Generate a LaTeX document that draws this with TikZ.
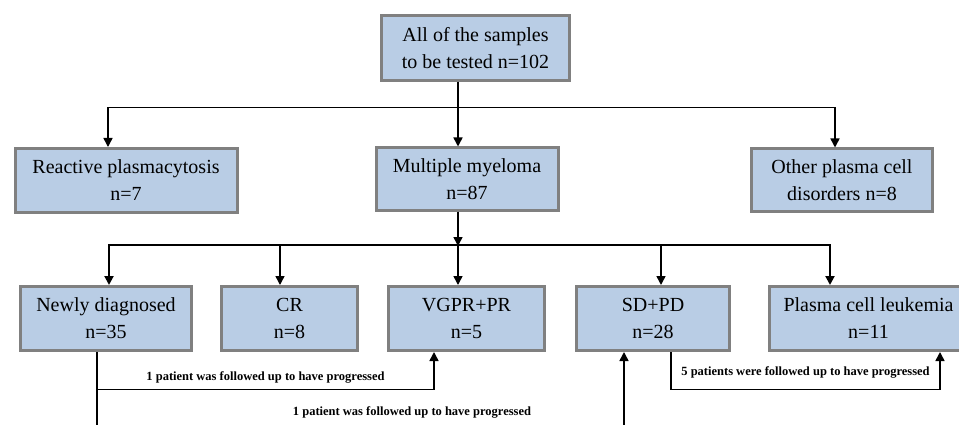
\documentclass[tikz,border=0pt]{standalone}
\usepackage{fontspec}
\setmainfont{Liberation Serif}
\usetikzlibrary{arrows.meta}
\definecolor{boxfill}{HTML}{B9CDE5}
\definecolor{boxline}{HTML}{808080}
\begin{document}
\begin{tikzpicture}[line join=miter,>={Triangle[width=9pt,length=9pt]},x=1pt,y=-1pt,
	box/.style={draw=boxline,line width=3pt,fill=boxfill,align=center,inner sep=0pt,minimum height=64pt,font=\fontsize{20}{27}\selectfont},
	conn/.style={line width=1.5pt},
	note/.style={font=\fontsize{12.5}{14}\selectfont\bfseries,inner sep=0pt}]
		\clip(0,0) rectangle (959,425);
		\node[box,minimum width=188pt,minimum height=65pt] (all) at (475.5,48) {All of the samples\\to be tested n=102};
		\node[box,minimum width=222pt] (reactive) at (126,180.5) {Reactive plasmacytosis\\n=7};
		\node[box,minimum width=182pt,minimum height=62pt] (mm) at (467,179) {Multiple myeloma\\n=87};
		\node[box,minimum width=181pt,minimum height=62pt] (other) at (842,180) {Other plasma cell\\disorders n=8};
		\node[box,minimum width=171pt] (newly) at (106,318.5) {Newly diagnosed\\n=35};
		\node[box,minimum width=136pt] (cr) at (289.5,318.5) {CR\\n=8};
		\node[box,minimum width=156pt] (vgpr) at (466.5,318.5) {VGPR+PR\\n=5};
		\node[box,minimum width=153pt] (sd) at (653,318.5) {SD+PD\\n=28};
		\node[box,minimum width=198pt] (pcl) at (868.5,318.5) {Plasma cell leukemia\\n=11};
		\coordinate (fork) at (458,246);
		\coordinate (cut1) at (97,430);
		\coordinate (cut2) at (624,430);
		\draw[conn,->] ([xshift=-17.5pt]all.south) -- ([xshift=-9pt]mm.north);
		\draw[conn,<->] ([xshift=-18pt]reactive.north) -- ++(0,-39.5) -| ([xshift=-7pt]other.north);
		\draw[conn,->] ([xshift=-9pt]mm.south) -- (fork);
		\draw[line width=2pt,<->,>={Triangle[width=9pt,length=9pt]}] ([xshift=3pt]newly.north) -- ++(0,-40.5) -| ([xshift=-38.5pt]pcl.north);
		\draw[conn,->] (fork) -- ([xshift=-8.5pt]vgpr.north);
		\draw[conn,<-] ([xshift=-9.5pt]cr.north) -- +(0,-40.5);
		\draw[conn,<-] ([xshift=8pt]sd.north) -- +(0,-40.5);
		\draw[conn] ([xshift=-9pt]newly.south) -- (cut1);
		\draw[conn,->] ([xshift=-9pt]newly.south) -- ++(0,37.5) -| ([xshift=-32.5pt]vgpr.south) node[note,pos=0.25,above=5.8pt] (lab1) {1 patient was followed up to have progressed};
		\node[note] (lab2) at (412,412) {1 patient was followed up to have progressed};
		\draw[conn,->] (cut2) -- ([xshift=-29pt]sd.south);
		\draw[conn,->] ([xshift=18pt]sd.south) -- ++(0,37.5) -| ([xshift=71.5pt]pcl.south) node[note,pos=0.25,above=10.8pt] (lab3) {5 patients were followed up to have progressed};
\end{tikzpicture}
\end{document}
